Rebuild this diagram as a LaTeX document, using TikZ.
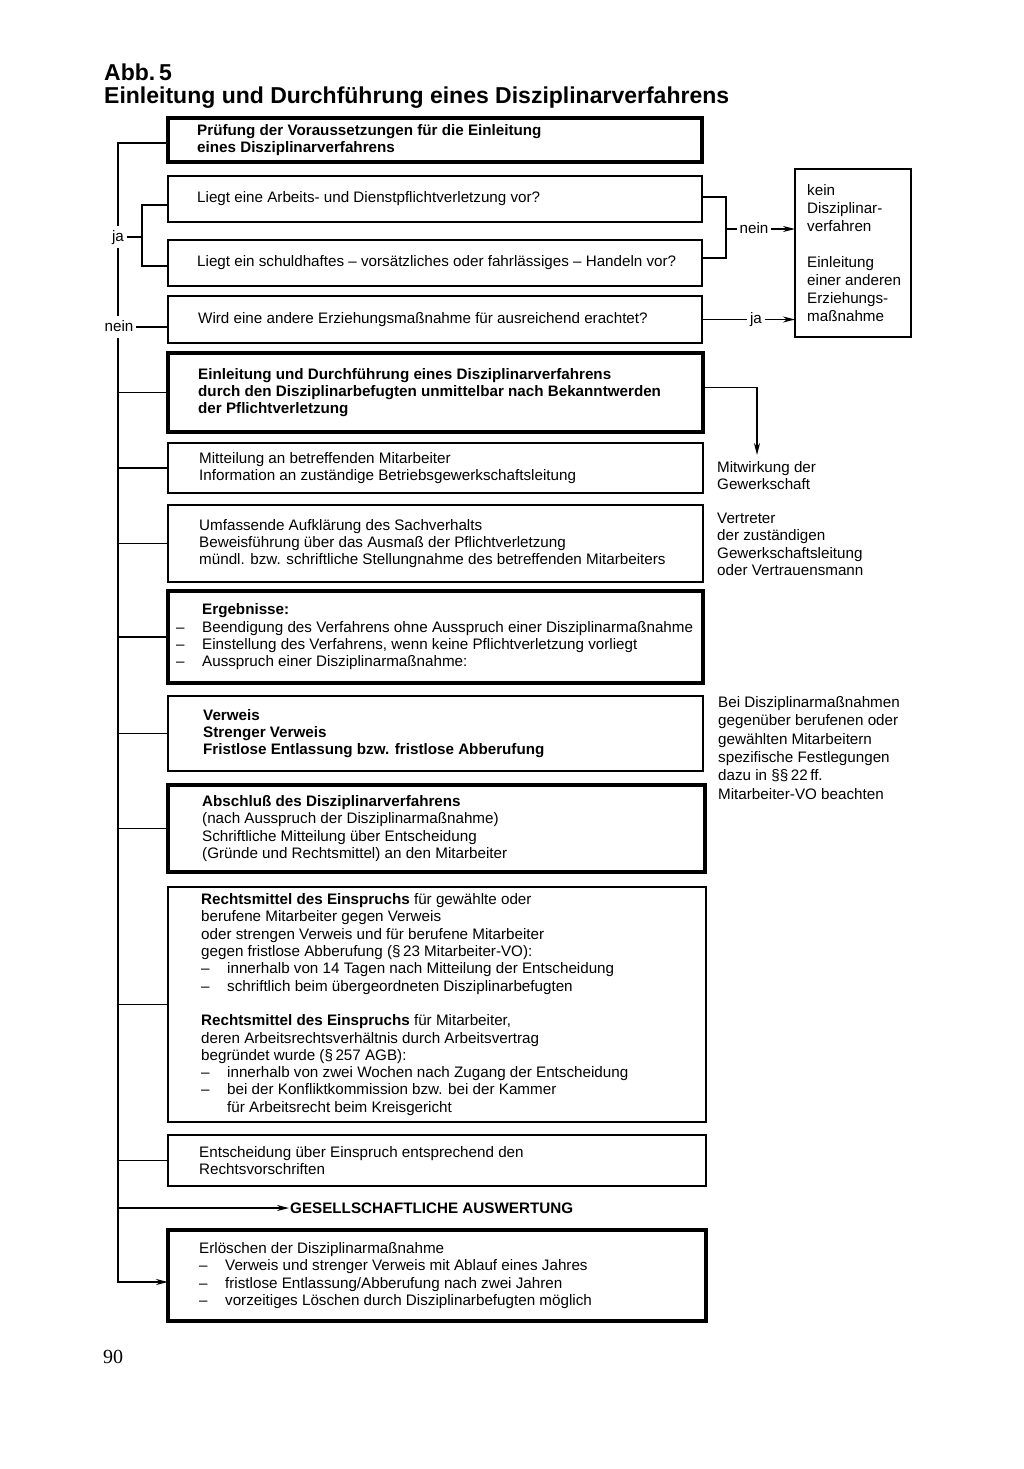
\documentclass[tikz,border=0pt]{standalone}
\usepackage{fontspec}
\setmainfont{Liberation Sans}
\newfontfamily\pagenumfont{Liberation Serif}
\usetikzlibrary{arrows.meta}
\newcommand{\dl}{\makebox[26pt][l]{–}}
\newcommand{\bodyfont}{\fontsize{15.2}{17.3}\selectfont}
\begin{document}
\begin{tikzpicture}[x=1pt,y=-1pt,
  thinbox/.style={draw, line width=1.8pt, inner sep=0pt, outer sep=0pt, anchor=north west},
  thickbox/.style={draw, line width=3.6pt, inner sep=0pt, outer sep=0pt, anchor=north west},
  txt/.style={inner sep=0pt, align=left, font=\bodyfont, anchor=west},
  sidetxt/.style={inner sep=0pt, align=left, font=\bodyfont, anchor=north west},
  lbl/.style={inner xsep=2.5pt, inner ysep=4pt, font=\bodyfont, text height=11pt, text depth=3pt},
  conn/.style={line width=1.7pt, line join=miter},
  arr/.style={conn, -{Stealth[length=12pt,width=6pt]}},
  title/.style={anchor=base west, inner sep=0pt, font=\fontsize{23}{24}\selectfont\bfseries}
]
\fill[white] (0,0) rectangle (1024,1469);
\useasboundingbox (0,0) rectangle (1024,1469);

% title
\node[title] (title1) at (104,81) {Abb.\,5};
\node[title] (title2) at (104,104) {Einleitung und Durchführung eines Disziplinarverfahrens};

% boxes
\node[thickbox, minimum width=534pt, minimum height=44pt] (b1) at (168,118) {};
\node[thinbox, minimum width=534pt, minimum height=46pt] (b2) at (168,176) {};
\node[thinbox, minimum width=534pt, minimum height=46pt] (b3) at (168,240) {};
\node[thinbox, minimum width=534pt, minimum height=47pt] (b4) at (168,296) {};
\node[thickbox, minimum width=535pt, minimum height=79pt] (b5) at (168,353) {};
\node[thinbox, minimum width=535pt, minimum height=50pt] (b6) at (168,443) {};
\node[thinbox, minimum width=535pt, minimum height=77pt] (b7) at (168,505) {};
\node[thickbox, minimum width=535pt, minimum height=92pt] (b8) at (168,591) {};
\node[thinbox, minimum width=535pt, minimum height=75pt] (b9) at (168,696) {};
\node[thickbox, minimum width=537pt, minimum height=87pt] (b10) at (168,785) {};
\node[thinbox, minimum width=538pt, minimum height=235pt] (b11) at (168,887) {};
\node[thinbox, minimum width=538pt, minimum height=51pt] (b12) at (168,1135) {};
\node[thickbox, minimum width=538pt, minimum height=91pt] (b13) at (168,1230) {};
\node[thinbox, minimum width=116pt, minimum height=168pt] (kein) at (795,169) {};

% box texts
\node[txt, font=\bodyfont\bfseries] (t1) at ([xshift=29pt]b1.west)
  {Prüfung der Voraussetzungen für die Einleitung\\eines Disziplinarverfahrens};
\node[txt] (t2) at ([xshift=29pt]b2.west) {Liegt eine Arbeits- und Dienstpflichtverletzung vor?};
\node[txt] (t3) at ([xshift=29pt]b3.west) {Liegt ein schuldhaftes – vorsätzliches oder fahrlässiges – Handeln vor?};
\node[txt] (t4) at ([xshift=30pt]b4.west) {Wird eine andere Erziehungsmaßnahme für ausreichend erachtet?};
\node[txt, font=\bodyfont\bfseries] (t5) at ([xshift=30pt]b5.west)
  {Einleitung und Durchführung eines Disziplinarverfahrens\\durch den Disziplinarbefugten unmittelbar nach Bekanntwerden\\der Pflichtverletzung};
\node[txt] (t6) at ([xshift=31pt]b6.west)
  {Mitteilung an betreffenden Mitarbeiter\\Information an zuständige Betriebsgewerkschaftsleitung};
\node[txt] (t7) at ([xshift=31pt]b7.west)
  {Umfassende Aufklärung des Sachverhalts\\Beweisführung über das Ausmaß der Pflichtverletzung\\mündl. bzw. schriftliche Stellungnahme des betreffenden Mitarbeiters};
\node[txt] (t8) at ([xshift=34pt]b8.west)
  {\textbf{Ergebnisse:}\\\llap{\dl}Beendigung des Verfahrens ohne Ausspruch einer Disziplinarmaßnahme\\\llap{\dl}Einstellung des Verfahrens, wenn keine Pflichtverletzung vorliegt\\\llap{\dl}Ausspruch einer Disziplinarmaßnahme:};
\node[txt, font=\bodyfont\bfseries] (t9) at ([xshift=35pt]b9.west)
  {Verweis\\Strenger Verweis\\Fristlose Entlassung bzw. fristlose Abberufung};
\node[txt] (t10) at ([xshift=34pt]b10.west)
  {\textbf{Abschluß des Disziplinarverfahrens}\\(nach Ausspruch der Disziplinarmaßnahme)\\Schriftliche Mitteilung über Entscheidung\\(Gründe und Rechtsmittel) an den Mitarbeiter};
\node[txt] (t11) at ([xshift=33pt]b11.west)
  {\textbf{Rechtsmittel des Einspruchs} für gewählte oder\\berufene Mitarbeiter gegen Verweis\\oder strengen Verweis und für berufene Mitarbeiter\\gegen fristlose Abberufung (§\,23 Mitarbeiter-VO):\\\dl innerhalb von 14 Tagen nach Mitteilung der Entscheidung\\\dl schriftlich beim übergeordneten Disziplinarbefugten\\[17.3pt]\textbf{Rechtsmittel des Einspruchs} für Mitarbeiter,\\deren Arbeitsrechtsverhältnis durch Arbeitsvertrag\\begründet wurde (§\,257 AGB):\\\dl innerhalb von zwei Wochen nach Zugang der Entscheidung\\\dl bei der Konfliktkommission bzw. bei der Kammer\\\hspace*{26pt}für Arbeitsrecht beim Kreisgericht};
\node[txt] (t12) at ([xshift=31pt]b12.west)
  {Entscheidung über Einspruch entsprechend den\\Rechtsvorschriften};
\node[txt] (t13) at ([xshift=31pt]b13.west)
  {Erlöschen der Disziplinarmaßnahme\\\dl Verweis und strenger Verweis mit Ablauf eines Jahres\\\dl fristlose Entlassung/Abberufung nach zwei Jahren\\\dl vorzeitiges Löschen durch Disziplinarbefugten möglich};
\node[txt, font=\fontsize{15.2}{18}\selectfont] (tk) at ([xshift=12pt]kein.west)
  {kein\\Disziplinar-\\verfahren\\[18pt]Einleitung\\einer anderen\\Erziehungs-\\maßnahme};

% side texts
\node[sidetxt] (mwt) at (717,461) {Mitwirkung der\\Gewerkschaft};
\node[sidetxt] (vtt) at (717,513) {Vertreter\\der zuständigen\\Gewerkschaftsleitung\\oder Vertrauensmann};
\node[sidetxt, font=\fontsize{15.2}{18.4}\selectfont] (bei) at (718,696)
  {Bei Disziplinarmaßnahmen\\gegenüber berufenen oder\\gewählten Mitarbeitern\\spezifische Festlegungen\\dazu in §§\,22\,ff.\\Mitarbeiter-VO beachten};

% labels
\node[lbl] (ja) at (118,237) {ja};
\node[lbl] (nein) at (119,327) {nein};
\node[lbl] (neinR) at (754,229) {nein};
\node[lbl] (jaR) at (756,319.5) {ja};
\node[anchor=west, inner sep=0pt, font=\bodyfont\bfseries] (gesell) at (290,1208) {GESELLSCHAFTLICHE AUSWERTUNG};
\node[anchor=base west, inner sep=0pt, font=\pagenumfont\fontsize{20}{20}\selectfont] (pg) at (103,1363) {90};

% coordinates
\coordinate (sp) at (118,143);
\coordinate (spEnd) at (118,1282);
\coordinate (brL) at (142,0);
\coordinate (brR) at (726,0);
\coordinate (mw) at (757,455);

% left spine
\draw[conn] ([yshift=-3pt]b1.west) -- ([yshift=-3pt]b1.west -| sp) -- (ja.north -| sp);
\draw[conn] (ja.south -| sp) -- (nein.north -| sp);
\draw[arr] (nein.south -| sp) -- (spEnd) -- (spEnd -| b13.west);
\draw[conn] ([yshift=-6pt]b2.west) -- ([yshift=-6pt]b2.west -| brL) -- ([yshift=-3pt]b3.west -| brL) -- ([yshift=-3pt]b3.west);
\draw[conn] (ja.east) -- (ja.east -| brL);
\draw[conn] (nein.east) -- (nein.east -| b4.west);
\foreach \b in {b5,b6,b7,b8,b9,b10,b11,b12}{
  \draw[conn] (\b.west) -- (\b.west -| sp);
}
\draw[arr] (gesell.west -| sp) -- ([xshift=-1pt]gesell.west);

% right side
\draw[conn] ([yshift=2pt]b2.east) -- ([yshift=2pt]b2.east -| brR) -- ([yshift=5pt]b3.east -| brR) -- ([yshift=5pt]b3.east);
\draw[conn] (neinR.west -| brR) -- (neinR.west);
\draw[arr] (neinR.east) -- (neinR.east -| kein.west);
\draw[conn] (b4.east) -- (jaR.west);
\draw[arr] (jaR.east) -- (jaR.east -| kein.west);
\draw[arr] ([yshift=5pt]b5.east) -| (mw);
\end{tikzpicture}
\end{document}
